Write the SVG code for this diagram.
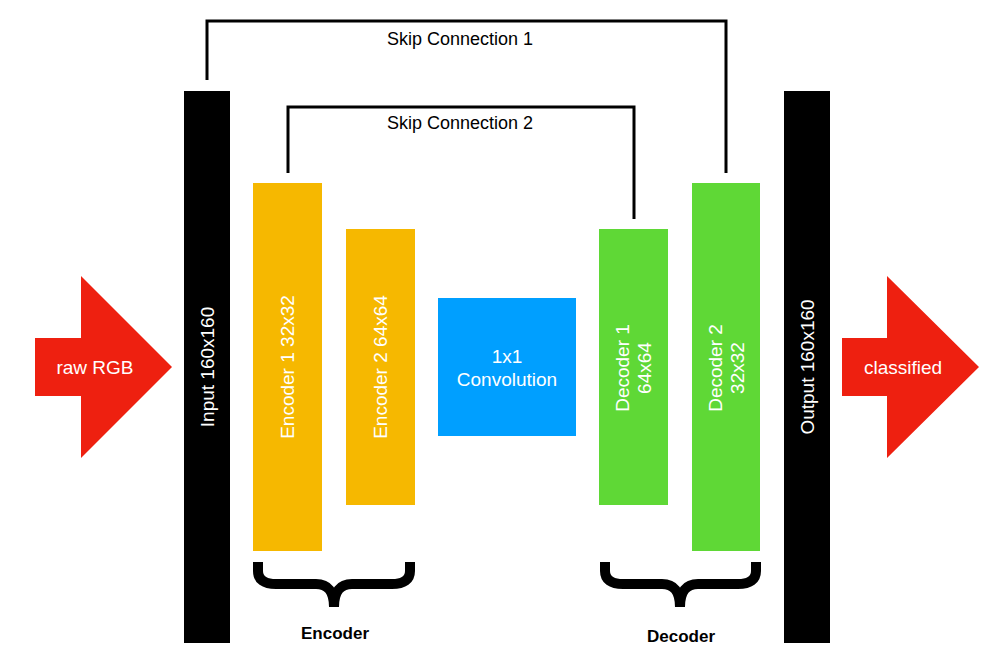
<svg xmlns="http://www.w3.org/2000/svg" width="1000" height="659" viewBox="0 0 1000 659">
<style>
.t{font-family:"Liberation Sans",Arial,sans-serif;fill:#fff;font-size:19px;text-anchor:middle}
.k{font-family:"Liberation Sans",Arial,sans-serif;fill:#000;font-size:18px;text-anchor:middle}
.b{font-family:"Liberation Sans",Arial,sans-serif;fill:#000;font-size:17px;font-weight:bold;text-anchor:middle}
.line{fill:none;stroke:#000;stroke-width:3}
.brace{fill:none;stroke:#000;stroke-width:10}
.enc{fill:#F6B800}
.dec{fill:#5FD836}
.arr{fill:#EE2010}
</style>
<rect width="1000" height="659" fill="#fff"/>
<g id="connectors">
<polyline class="line" points="207,80 207,21 726,21 726,173"/>
<polyline class="line" points="288,173 288,107 634,107 634,219"/>
<text class="k" x="460" y="45">Skip Connection 1</text>
<text class="k" x="460" y="129">Skip Connection 2</text>
</g>
<g id="raw-rgb">
<polygon class="arr" points="35,338 81,338 81,276 172,367 81,458 81,396 35,396"/>
<text class="t" x="95" y="374">raw RGB</text>
</g>
<g id="input">
<rect x="184" y="91" width="46" height="552" fill="#000"/>
<text class="t" transform="translate(214,367) rotate(-90)">Input 160x160</text>
</g>
<g id="encoder1">
<rect class="enc" x="253" y="183" width="69" height="368"/>
<text class="t" transform="translate(294,367) rotate(-90)">Encoder 1 32x32</text>
</g>
<g id="encoder2">
<rect class="enc" x="346" y="229" width="69" height="276"/>
<text class="t" transform="translate(387,367) rotate(-90)">Encoder 2 64x64</text>
</g>
<g id="conv">
<rect x="438" y="298" width="138" height="138" fill="#009FFF"/>
<text class="t" x="507" y="363">1x1</text>
<text class="t" x="507" y="386">Convolution</text>
</g>
<g id="decoder1">
<rect class="dec" x="599" y="229" width="69" height="276"/>
<text class="t" transform="translate(633,368) rotate(-90)"><tspan x="0" y="-4">Decoder 1</tspan><tspan x="0" y="18">64x64</tspan></text>
</g>
<g id="decoder2">
<rect class="dec" x="692" y="183" width="68" height="368"/>
<text class="t" transform="translate(726,368) rotate(-90)"><tspan x="0" y="-4">Decoder 2</tspan><tspan x="0" y="18">32x32</tspan></text>
</g>
<g id="output">
<rect x="784" y="91" width="46" height="552" fill="#000"/>
<text class="t" transform="translate(814,367) rotate(-90)">Output 160x160</text>
</g>
<g id="classified">
<polygon class="arr" points="842,338 887,338 887,276 979,367 887,458 887,396 842,396"/>
<text class="t" x="903" y="374">classified</text>
</g>
<g id="encoder-brace">
<path class="brace" d="M258,562 L258,571 Q258,584 276,584 L316,584 Q334,584 334,607 Q334,584 352,584 L392,584 Q410,584 410,571 L410,562"/>
<text class="b" x="335" y="639">Encoder</text>
</g>
<g id="decoder-brace">
<path class="brace" d="M605,562 L605,571 Q605,584 623,584 L662,584 Q680,584 680,607 Q680,584 698,584 L738,584 Q756,584 756,571 L756,562"/>
<text class="b" x="681" y="642">Decoder</text>
</g>
</svg>
